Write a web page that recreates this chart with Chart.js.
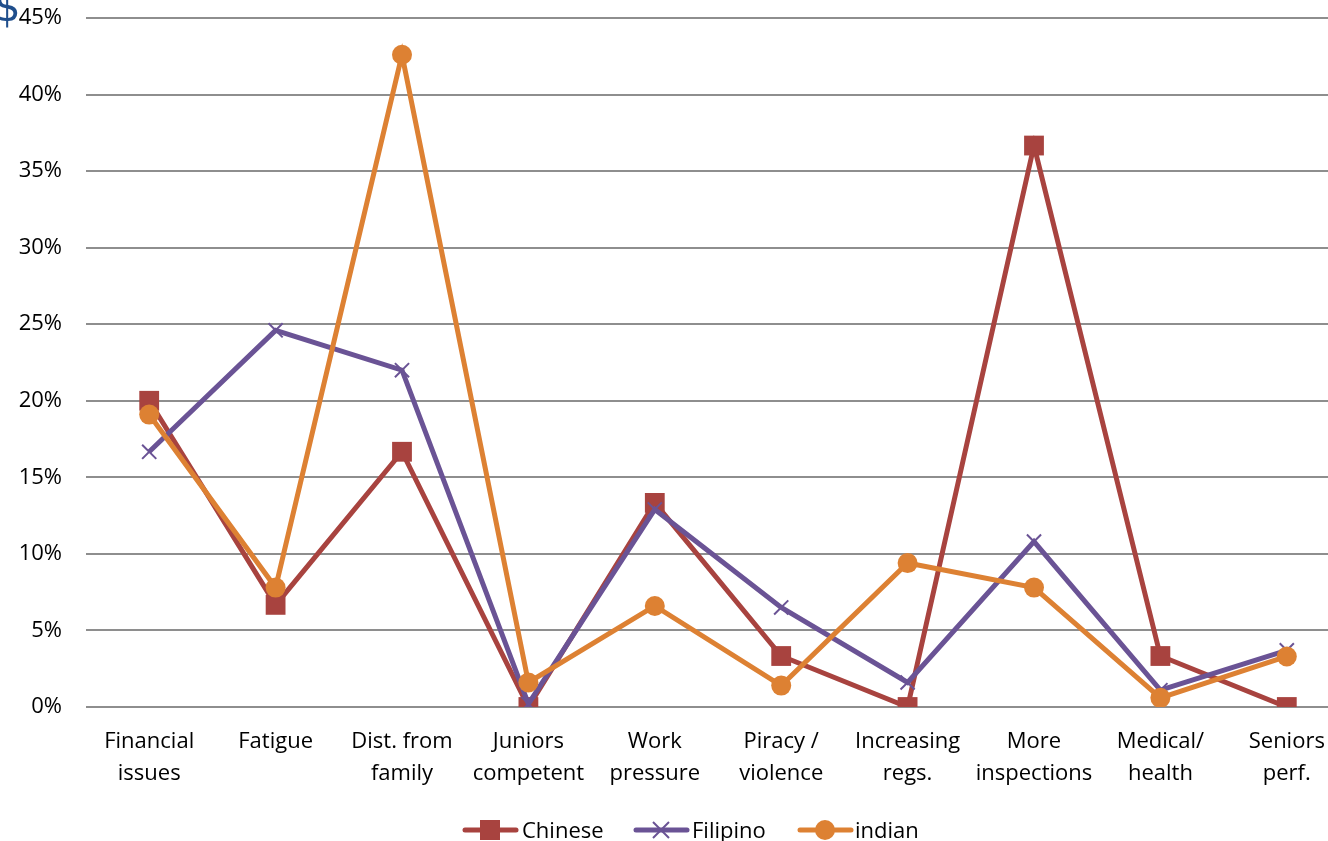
<!DOCTYPE html>
<html>
<head>
<meta charset="utf-8">
<script src="https://cdn.jsdelivr.net/npm/chart.js@4.4.1/dist/chart.umd.min.js"></script>
<style>
  html, body { margin: 0; padding: 0; background: #fff; overflow: hidden; }
  #wrap { position: relative; width: 1350px; height: 841px; }
  #glyph { position: absolute; left: -6px; top: -14px; font-family: "DejaVu Sans", sans-serif; font-size: 42px; color: #1f4e8c; line-height: 1; }
  .lg { position: absolute; top: 817px; height: 24px; font-family: "Open Sans", sans-serif; font-size: 22px; color: #000; line-height: 24px; white-space: nowrap; }
  .lg svg { position: absolute; left: 0; top: 2px; }
</style>
</head>
<body>
<div id="wrap">
  <canvas id="c" width="1350" height="841"></canvas>
  <div id="glyph">$</div>
  <div id="legend"></div>
</div>
<script>
const categories = [
  ["Financial", "issues"], ["Fatigue"], ["Dist. from", "family"], ["Juniors", "competent"],
  ["Work", "pressure"], ["Piracy /", "violence"], ["Increasing", "regs."], ["More", "inspections"],
  ["Medical/", "health"], ["Seniors", "perf."]
];
const chinese  = [0.200, 0.0667, 0.1667, 0.000, 0.1333, 0.0333, 0.000, 0.3667, 0.0333, 0.000];
const filipino = [0.1667, 0.246, 0.220, 0.002, 0.129, 0.065, 0.016, 0.108, 0.011, 0.037];
const indian   = [0.191, 0.078, 0.426, 0.016, 0.066, 0.014, 0.094, 0.078, 0.006, 0.033];
const seriesNames = ["Chinese", "Filipino", "indian"];
const yTicks = [0, 0.05, 0.10, 0.15, 0.20, 0.25, 0.30, 0.35, 0.40, 0.45];

const colors = ["#a8433f", "#6a5395", "#dd8133"];
const FONT = "'Open Sans', sans-serif";
const styles = ['rect', 'crossRot', 'circle'];
const radii = [14, 10, 10];
const seriesData = [chinese, filipino, indian];

// HTML legend (line + marker icon, then label)
const legendX = [[462, 522], [633, 692], [797, 855]];
const legendEl = document.getElementById('legend');
seriesNames.forEach((name, i) => {
  const icon = document.createElement('div');
  icon.className = 'lg';
  icon.style.left = legendX[i][0] + 'px';
  icon.style.width = '58px';
  let marker;
  if (styles[i] === 'rect') marker = `<rect x="18" y="1" width="20" height="20" fill="${colors[i]}"/>`;
  else if (styles[i] === 'circle') marker = `<circle cx="28" cy="11" r="10" fill="${colors[i]}"/>`;
  else marker = `<path d="M20 3 L36 19 M36 3 L20 19" stroke="${colors[i]}" stroke-width="2"/>`;
  icon.innerHTML = `<svg width="58" height="22"><line x1="3" y1="11" x2="54" y2="11" stroke="${colors[i]}" stroke-width="5" stroke-linecap="round"/>${marker}</svg>`;
  legendEl.appendChild(icon);
  const txt = document.createElement('div');
  txt.className = 'lg';
  txt.style.left = legendX[i][1] + 'px';
  txt.textContent = name;
  legendEl.appendChild(txt);
});

const datasets = seriesNames.map((name, i) => ({
  label: name,
  data: seriesData[i],
  borderColor: colors[i],
  backgroundColor: colors[i],
  borderWidth: 5,
  pointStyle: styles[i],
  pointRadius: radii[i],
  pointBorderWidth: styles[i] === 'crossRot' ? 2 : 0,
  pointBorderColor: colors[i],
  pointBackgroundColor: colors[i],
  tension: 0,
  order: 3 - i
}));

new Chart(document.getElementById('c'), {
  type: 'line',
  data: { labels: categories, datasets },
  options: {
    responsive: false,
    animation: false,
    layout: { padding: 0, autoPadding: false },
    plugins: {
      tooltip: { enabled: false },
      legend: { display: false }
    },
    scales: {
      x: {
        offset: true,
        grid: { display: false },
        border: { display: false },
        ticks: { color: '#000', font: { family: FONT, size: 22, lineHeight: 1.45 }, padding: 11, maxRotation: 0, autoSkip: false },
        afterFit: (s) => { s.height = 134; s.paddingLeft = 0; s.paddingRight = 0; }
      },
      y: {
        min: 0, max: 0.45,
        afterBuildTicks: (s) => { s.ticks = yTicks.map(v => ({ value: v })); },
        grid: { color: '#8e8e8e', lineWidth: 2, drawTicks: false },
        border: { display: false },
        ticks: {
          color: '#000', font: { family: FONT, size: 22 }, padding: 24,
          callback: (v) => Math.round(v * 100) + '%'
        },
        afterFit: (s) => { s.width = 86; s.paddingTop = 18; s.paddingBottom = 0; }
      }
    }
  }
});
</script>
</body>
</html>
